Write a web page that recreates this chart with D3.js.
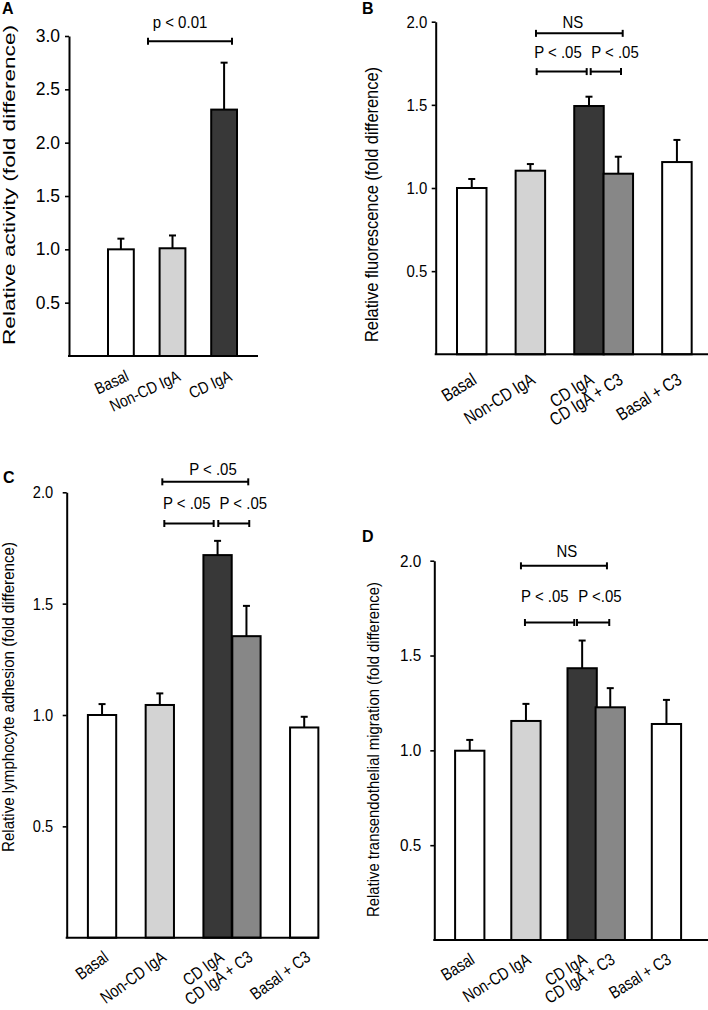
<!DOCTYPE html>
<html><head><meta charset="utf-8">
<script src="https://cdn.jsdelivr.net/npm/d3@7"></script>
<style>
body{margin:0;background:#fff}
svg{display:block}
text{font-family:"Liberation Sans",Arial,Helvetica,sans-serif;fill:#000}
</style>
</head><body>
<svg id="chart" width="708" height="1010"></svg>
<script>
// ---------------- DATA ----------------
const categoriesA = ["Basal", "Non-CD IgA", "CD IgA"];
const valuesA = [1.00, 1.01, 2.31];
const errorsA = [0.10, 0.12, 0.44];
const ticksA = [0.5, 1.0, 1.5, 2.0, 2.5, 3.0];

const categoriesBCD = ["Basal", "Non-CD IgA", "CD IgA", "CD IgA + C3", "Basal + C3"];
const fillGroups = ["white", "light", "dark", "mid", "white"];

const valuesB = [1.00, 1.104, 1.493, 1.086, 1.156];
const errorsB = [0.054, 0.040, 0.056, 0.102, 0.133];

const valuesC = [1.00, 1.045, 1.718, 1.354, 0.944];
const errorsC = [0.049, 0.052, 0.064, 0.136, 0.048];

const valuesD = [0.998, 1.155, 1.433, 1.227, 1.139];
const errorsD = [0.057, 0.090, 0.146, 0.101, 0.127];

const ticksBCD = [0.5, 1.0, 1.5, 2.0];

const bracketsA = [{from: "Non-CD IgA", to: "CD IgA", label: "p < 0.01"}];
const bracketsB = [
  {from: "Non-CD IgA", to: "CD IgA + C3", label: "NS"},
  {from: "Non-CD IgA", to: "CD IgA", label: "P < .05"},
  {from: "CD IgA", to: "CD IgA + C3", label: "P < .05"}
];
const bracketsC = [
  {from: "Non-CD IgA", to: "CD IgA + C3", label: "P < .05"},
  {from: "Non-CD IgA", to: "CD IgA", label: "P < .05"},
  {from: "CD IgA", to: "CD IgA + C3", label: "P < .05"}
];
const bracketsD = [
  {from: "Non-CD IgA", to: "CD IgA + C3", label: "NS"},
  {from: "Non-CD IgA", to: "CD IgA", label: "P < .05"},
  {from: "CD IgA", to: "CD IgA + C3", label: "P <.05"}
];

// ---------------- STYLE / LAYOUT ----------------
const fillColors = {white: "#ffffff", light: "#d3d3d3", dark: "#383838", mid: "#878787"};

const panels = [
  {letter: "A", cats: categoriesA, values: valuesA, errors: errorsA, fills: ["white", "light", "dark"],
   ticks: ticksA, yMax: 3, ylabel: "Relative activity (fold difference)", brackets: bracketsA,
   L: {axisX: 69, baseY: 356, topY: 36, right: 258, x0: 108, slot: 25.8, barW: 25.8, slots: [0, 2, 4],
       tickFont: 17.5, tickSq: 1.0, tickPad: 5, xFont: 16.5, xSq: 0.85, xRot: -25, xdx: 9, xdy: 24,
       yl: {x: 15, y: 185, len: 320, size: 16}, letterPos: [2, 14],
       bFont: 16.5, bSq: 0.91,
       bLevels: [2.95], bText: [{dy: 13, dx: -10}], bExt: [[-24.5, 7.9]]}},
  {letter: "B", cats: categoriesBCD, values: valuesB, errors: errorsB, fills: fillGroups,
   ticks: ticksBCD, yMax: 2, ylabel: "Relative fluorescence (fold difference)", brackets: bracketsB,
   L: {axisX: 435.7, baseY: 354.3, topY: 21.7, right: 708, x0: 457, slot: 29.31, barW: 29.5, slots: [0, 2, 4, 5, 7],
       tickFont: 17, tickSq: 0.88, tickPad: 4.5, xFont: 18, xSq: 0.82, xRot: -32, xdx: 6, xdy: 28.5,
       yl: {x: 378, y: 204.5, len: 275, size: 17.5}, letterPos: [362, 13.5],
       bFont: 17, bSq: 0.88,
       bLevels: [1.93, 1.70, 1.70], bText: [{dy: 5, dx: -6.4}, {dy: 14, dx: -3.7}, {dy: 14, dx: 9.1}],
       bExt: [[5.6, 4.4], [6.3, -2.3], [1.7, 2.7]]}},
  {letter: "C", cats: categoriesBCD, values: valuesC, errors: errorsC, fills: fillGroups,
   ticks: ticksBCD, yMax: 2, ylabel: "Relative lymphocyte adhesion (fold difference)", brackets: bracketsC,
   L: {axisX: 66.7, baseY: 937.7, topY: 492.3, right: 319, x0: 87.9, slot: 28.88, barW: 28.3, slots: [0, 2, 4, 5, 7],
       tickFont: 17, tickSq: 0.86, tickPad: 9.5, xFont: 17.2, xSq: 0.82, xRot: -36, xdx: 7.5, xdy: 22,
       yl: {x: 14, y: 697, len: 310, size: 16.5}, letterPos: [3, 482.5],
       bFont: 17, bSq: 0.88,
       bLevels: [2.047, 1.86, 1.86], bText: [{dy: 6.7, dx: 7.7}, {dy: 14, dx: -2.3}, {dy: 14, dx: 9.5}],
       bExt: [[2.5, 1.8], [4.5, -3.9], [0.7, 2.8]]}},
  {letter: "D", cats: categoriesBCD, values: valuesD, errors: errorsD, fills: fillGroups,
   ticks: ticksBCD, yMax: 2, ylabel: "Relative transendothelial migration (fold difference)", brackets: bracketsD,
   L: {axisX: 434.3, baseY: 940, topY: 560.7, right: 708, x0: 455.1, slot: 28.1, barW: 29.3, slots: [0, 2, 4, 5, 7],
       tickFont: 17, tickSq: 0.9, tickPad: 9, xFont: 17.2, xSq: 0.82, xRot: -32, xdx: 6, xdy: 22.5,
       yl: {x: 378.5, y: 749.5, len: 335, size: 16.5}, letterPos: [362, 542],
       bFont: 17, bSq: 0.88,
       bLevels: [1.973, 1.674, 1.674], bText: [{dy: 9.3, dx: 3}, {dy: 21, dx: -4.7}, {dy: 21, dx: 6.8}],
       bExt: [[-5, -3.3], [-1, -7.9], [-5.2, -1]]}}
];

// squeeze a text horizontally (narrow typeface look) while keeping it real text
function squeeze(sel, ratio) {
  sel.each(function () {
    if (ratio === 1) return;
    const len = this.getComputedTextLength();
    d3.select(this).attr("textLength", len * ratio).attr("lengthAdjust", "spacingAndGlyphs");
  });
}

const svg = d3.select("#chart");

panels.forEach(p => {
  const L = p.L;
  const g = svg.append("g");
  const nSlots = d3.max(L.slots) + 1;
  const x = d3.scaleLinear().domain([0, nSlots]).range([L.x0, L.x0 + nSlots * L.slot]);
  const y = d3.scaleLinear().domain([0, p.yMax]).range([L.baseY, L.topY]);
  const slotOf = c => L.slots[p.cats.indexOf(c)];
  const cx = c => x(slotOf(c)) + L.barW / 2;

  const data = p.cats.map((c, i) => ({cat: c, v: p.values[i], e: p.errors[i], fill: p.fills[i]}));

  // error bars (behind bars)
  const eb = g.append("g").attr("stroke", "#000").attr("stroke-width", 2).attr("fill", "none");
  data.forEach(d => {
    const xc = cx(d.cat);
    eb.append("line").attr("x1", xc).attr("x2", xc).attr("y1", y(d.v)).attr("y2", y(d.v + d.e));
    eb.append("line").attr("x1", xc - 3.5).attr("x2", xc + 3.5).attr("y1", y(d.v + d.e)).attr("y2", y(d.v + d.e));
  });

  // bars
  g.append("g").selectAll("rect").data(data).join("rect")
    .attr("x", d => x(slotOf(d.cat)))
    .attr("y", d => y(d.v))
    .attr("width", L.barW)
    .attr("height", d => y(0) - y(d.v))
    .attr("fill", d => fillColors[d.fill])
    .attr("stroke", "#000")
    .attr("stroke-width", 2);

  // y axis
  const yAxis = d3.axisLeft(y).tickValues(p.ticks).tickFormat(d3.format(".1f"))
    .tickSizeInner(4).tickSizeOuter(0).tickPadding(L.tickPad);
  const ya = g.append("g").attr("transform", `translate(${L.axisX},0)`).call(yAxis);
  ya.attr("font-family", null);
  ya.select(".domain").attr("stroke-width", 2).attr("stroke", "#000");
  ya.selectAll(".tick line").attr("stroke-width", 1.6).attr("stroke", "#000");
  ya.selectAll(".tick text").attr("font-size", L.tickFont).attr("fill", "#000").call(squeeze, L.tickSq);

  // x axis line
  g.append("line").attr("x1", L.axisX - 1).attr("x2", L.right)
    .attr("y1", y(0)).attr("y2", y(0)).attr("stroke", "#000").attr("stroke-width", 2);

  // x category labels
  g.append("g").selectAll("text").data(data).join("text")
    .attr("text-anchor", "end")
    .attr("font-size", L.xFont)
    .attr("transform", d => `translate(${cx(d.cat) + L.xdx},${y(0) + L.xdy}) rotate(${L.xRot})`)
    .text(d => d.cat)
    .call(squeeze, L.xSq);

  // y label
  g.append("text")
    .attr("transform", `translate(${L.yl.x},${L.yl.y}) rotate(-90)`)
    .attr("text-anchor", "middle")
    .attr("font-size", L.yl.size)
    .attr("textLength", L.yl.len)
    .attr("lengthAdjust", "spacingAndGlyphs")
    .text(p.ylabel);

  // panel letter
  g.append("text").attr("x", L.letterPos[0]).attr("y", L.letterPos[1])
    .attr("font-size", 16).attr("font-weight", "bold").text(p.letter);

  // significance brackets
  const bg = g.append("g").attr("stroke", "#000").attr("stroke-width", 2);
  p.brackets.forEach((b, i) => {
    const by = y(L.bLevels[i]);
    const x1 = cx(b.from) + L.bExt[i][0];
    const x2 = cx(b.to) + L.bExt[i][1];
    bg.append("line").attr("x1", x1).attr("x2", x2).attr("y1", by).attr("y2", by);
    bg.append("line").attr("x1", x1).attr("x2", x1).attr("y1", by - 3.5).attr("y2", by + 3.5);
    bg.append("line").attr("x1", x2).attr("x2", x2).attr("y1", by - 3.5).attr("y2", by + 3.5);
    g.append("text").attr("x", (x1 + x2) / 2 + L.bText[i].dx).attr("y", by - L.bText[i].dy)
      .attr("text-anchor", "middle").attr("font-size", L.bFont).text(b.label)
      .call(squeeze, L.bSq);
  });
});
</script>
</body></html>
